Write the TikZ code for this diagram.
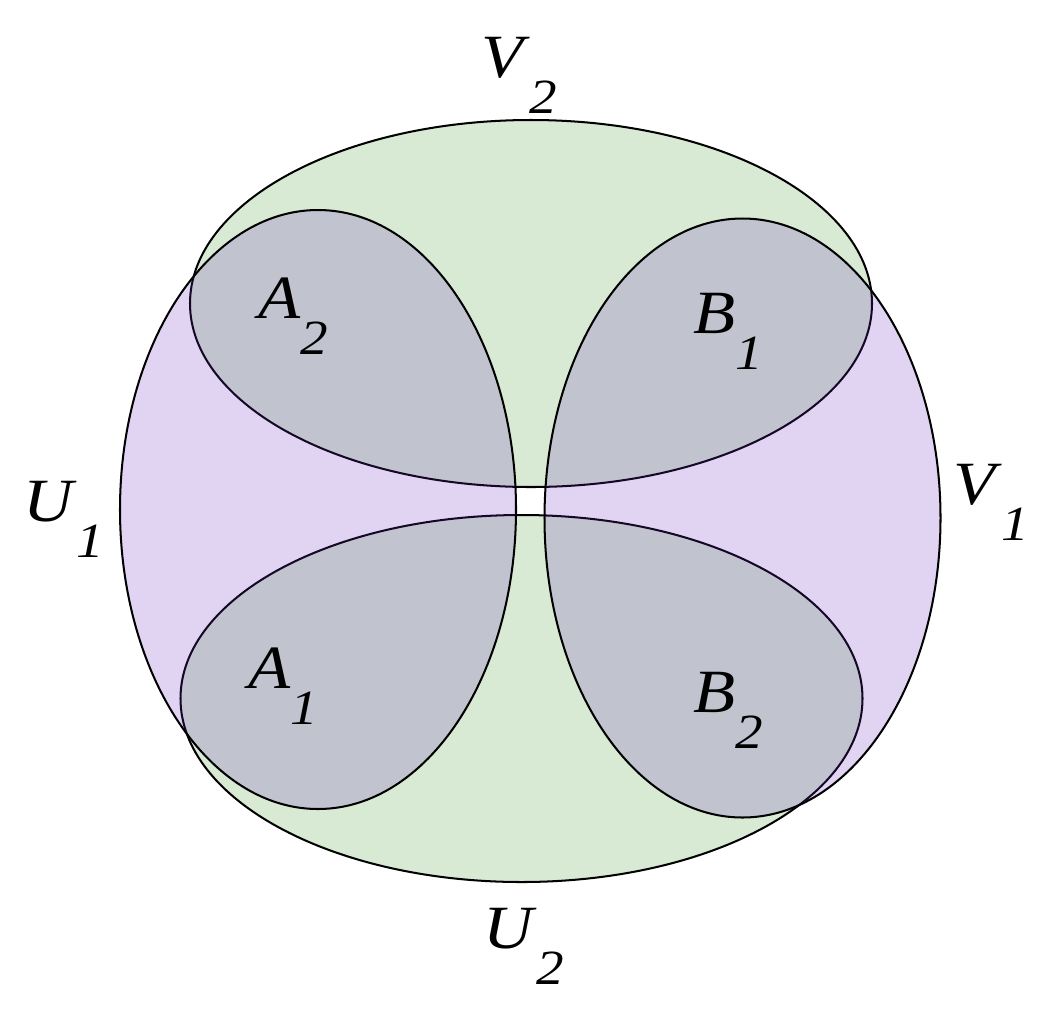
\documentclass[tikz,border=0pt]{standalone}
\usepackage{fontspec}
\setmainfont[FakeStretch=1.12]{Liberation Serif}
\usepackage{xcolor}
\definecolor{setgreen}{RGB}{216,234,211}
\definecolor{setpurple}{RGB}{105,40,190}

\newcommand{\setname}[2]{\textit{#1}\raisebox{-0.6em}{\fontsize{28}{28}\selectfont\textit{#2}}}

\begin{document}
\begin{tikzpicture}[x=0.02cm, y=-0.02cm, line width=1.15pt,
    setlabel/.style={font=\fontsize{35}{35}\selectfont, inner sep=0pt, anchor=base west}]
    \useasboundingbox (0,0) rectangle (1037,1008);

    % Green sets V_2 (top) and U_2 (bottom)
    \foreach \cx/\cy in {531/303.5, 521.5/698.5} {
        \fill[setgreen] (\cx,\cy) ellipse [x radius=341, y radius=183.5];
        \draw (\cx,\cy) ellipse [x radius=341, y radius=183.5];
    }

    % Purple sets U_1 (left) and V_1 (right)
    \foreach \cx/\cy in {318/509.5, 742.5/518} {
        \fill[setpurple, fill opacity=0.2] (\cx,\cy) ellipse [x radius=198, y radius=299.5];
        \draw (\cx,\cy) ellipse [x radius=198, y radius=299.5];
    }

    % Labels
    \node[setlabel] (v2) at (480,77) {\setname{V}{2}};
    \node[setlabel] (u2) at (482,948) {\setname{U}{2}};
    \node[setlabel] (u1) at (22,521) {\setname{U}{1}};
    \node[setlabel] (v1) at (952,504) {\setname{V}{1}};
    \node[setlabel] (a2) at (257,318) {\setname{A}{2}};
    \node[setlabel] (b1) at (692,333) {\setname{B}{1}};
    \node[setlabel] (a1) at (247,688) {\setname{A}{1}};
    \node[setlabel] (b2) at (692,712) {\setname{B}{2}};
\end{tikzpicture}
\end{document}
